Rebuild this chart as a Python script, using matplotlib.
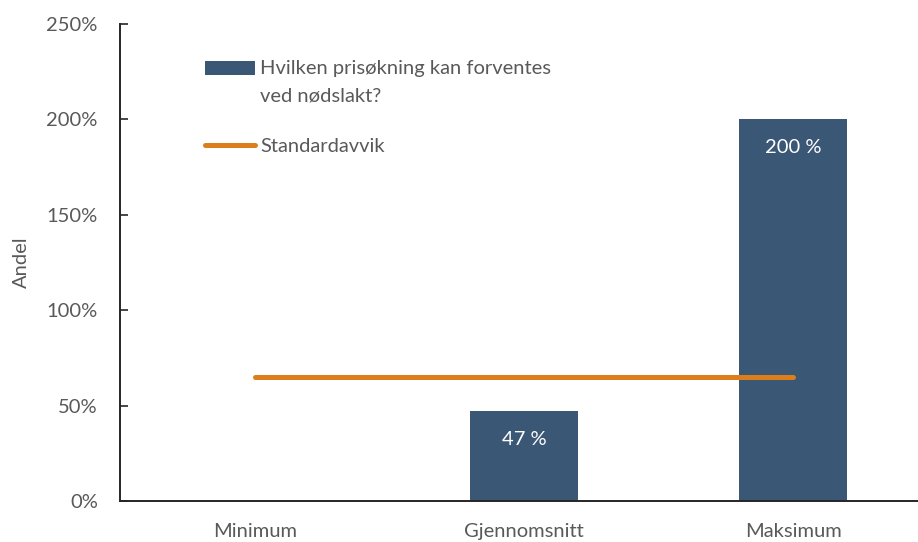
#!/usr/bin/env python3
# Price increase on emergency slaughter: bars with a standard deviation line
import matplotlib.pyplot as plt
from matplotlib.legend_handler import HandlerPatch
from matplotlib.patches import Rectangle
from matplotlib.ticker import FuncFormatter

categories = ['Minimum', 'Gjennomsnitt', 'Maksimum']
values = [0, 47, 200]
value_labels = ['', '47 %', '200 %']
std_value = 65
bar_label = 'Hvilken prisøkning kan forventes\nved nødslakt?'
std_label = 'Standardavvik'
yticks = [0, 50, 100, 150, 200, 250]

BAR_COLOR = '#3a5775'
LINE_COLOR = '#dc7f1a'
TEXT_COLOR = '#595959'
FS = 14.5
LSPACE = 1.8

plt.rcParams['font.family'] = ['Lato', 'DejaVu Sans']

fig = plt.figure(figsize=(9.18, 5.42), dpi=100)
ax = fig.add_axes([120 / 918, 41 / 542, 808 / 918, 477 / 542])

x = range(len(categories))
bars = ax.bar(x, values, width=0.4, color=BAR_COLOR, label=bar_label, zorder=2)
line, = ax.plot([0, len(categories) - 1], [std_value, std_value], color=LINE_COLOR, lw=3.6,
                solid_capstyle='round', label=std_label, zorder=3)

for rect, lab in zip(bars, value_labels):
    if lab:
        ax.annotate(lab, (rect.get_x() + rect.get_width() / 2, rect.get_height()),
                    xytext=(0, -20), textcoords='offset points', ha='center', va='center',
                    color='white', fontsize=FS)

ax.set_xlim(-0.5, 2.5)
ax.set_ylim(0, 250)
ax.set_yticks(yticks)
ax.yaxis.set_major_formatter(FuncFormatter(lambda v, p: '{:.0f}%'.format(v)))
ax.set_xticks(list(x))
ax.set_xticklabels(categories)
ax.tick_params(axis='y', direction='in', length=6, width=1.2, colors='#262626',
               labelcolor=TEXT_COLOR, labelsize=FS, pad=16)
ax.tick_params(axis='x', length=0, labelcolor=TEXT_COLOR, labelsize=FS, pad=16)
ax.set_ylabel('Andel', color=TEXT_COLOR, fontsize=FS, labelpad=12)

for side in ('top', 'right'):
    ax.spines[side].set_visible(False)
for side in ('left', 'bottom'):
    ax.spines[side].set_linewidth(1.4)
    ax.spines[side].set_color('#262626')


# put the bar swatch next to the first line of the two-line label
def top_patch(legend, orig_handle, xdescent, ydescent, width, height, fontsize):
    shift = fontsize * 0.72
    return Rectangle((-xdescent, -ydescent + shift), width, height)


bar_handle = bars.patches[1]
leg = ax.legend([bar_handle, line], [bar_label, std_label], loc='upper left',
                bbox_to_anchor=(0.105, 0.925), frameon=False, borderpad=0, borderaxespad=0,
                handlelength=2.5, handleheight=0.7, handletextpad=0.25,
                labelspacing=1.65, fontsize=FS,
                handler_map={bar_handle: HandlerPatch(patch_func=top_patch)})
for t in leg.get_texts():
    t.set_color(TEXT_COLOR)
    t.set_linespacing(LSPACE)

fig.savefig('out.png', dpi=100)
